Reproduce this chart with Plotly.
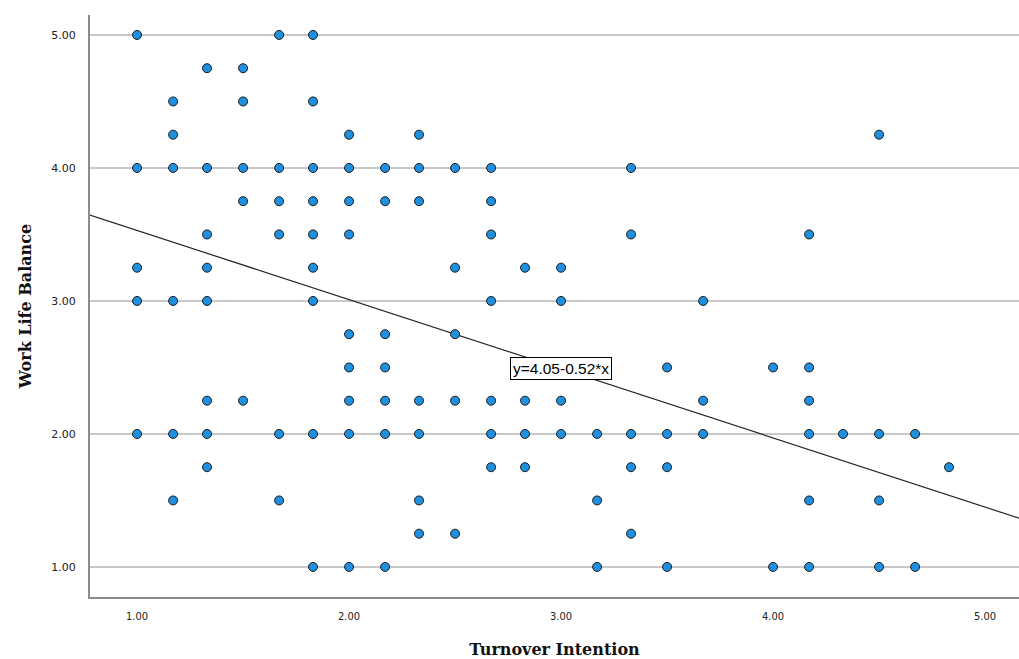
import plotly.graph_objects as go

# Data: Turnover Intention (x) vs Work Life Balance (y)
x_vals = [
    1.00, 1.00, 1.00, 1.00, 1.00,
    1.17, 1.17, 1.17, 1.17, 1.17, 1.17,
    1.33, 1.33, 1.33, 1.33, 1.33, 1.33, 1.33, 1.33,
    1.50, 1.50, 1.50, 1.50, 1.50,
    1.67, 1.67, 1.67, 1.67, 1.67, 1.67,
    1.83, 1.83, 1.83, 1.83, 1.83, 1.83, 1.83, 1.83, 1.83,
    2.00, 2.00, 2.00, 2.00, 2.00, 2.00, 2.00, 2.00, 2.00,
    2.17, 2.17, 2.17, 2.17, 2.17, 2.17, 2.17,
    2.33, 2.33, 2.33, 2.33, 2.33, 2.33, 2.33,
    2.50, 2.50, 2.50, 2.50, 2.50,
    2.67, 2.67, 2.67, 2.67, 2.67, 2.67, 2.67,
    2.83, 2.83, 2.83, 2.83,
    3.00, 3.00, 3.00, 3.00,
    3.17, 3.17, 3.17,
    3.33, 3.33, 3.33, 3.33, 3.33,
    3.50, 3.50, 3.50, 3.50,
    3.67, 3.67, 3.67,
    4.00, 4.00,
    4.17, 4.17, 4.17, 4.17, 4.17, 4.17,
    4.33,
    4.50, 4.50, 4.50, 4.50,
    4.67, 4.67,
    4.83,
]
y_vals = [
    5.00, 4.00, 3.25, 3.00, 2.00,
    4.50, 4.25, 4.00, 3.00, 2.00, 1.50,
    4.75, 4.00, 3.50, 3.25, 3.00, 2.25, 2.00, 1.75,
    4.75, 4.50, 4.00, 3.75, 2.25,
    5.00, 4.00, 3.75, 3.50, 2.00, 1.50,
    5.00, 4.50, 4.00, 3.75, 3.50, 3.25, 3.00, 2.00, 1.00,
    4.25, 4.00, 3.75, 3.50, 2.75, 2.50, 2.25, 2.00, 1.00,
    4.00, 3.75, 2.75, 2.50, 2.25, 2.00, 1.00,
    4.25, 4.00, 3.75, 2.25, 2.00, 1.50, 1.25,
    4.00, 3.25, 2.75, 2.25, 1.25,
    4.00, 3.75, 3.50, 3.00, 2.25, 2.00, 1.75,
    3.25, 2.25, 2.00, 1.75,
    3.25, 3.00, 2.25, 2.00,
    2.00, 1.50, 1.00,
    4.00, 3.50, 2.00, 1.75, 1.25,
    2.50, 2.00, 1.75, 1.00,
    3.00, 2.25, 2.00,
    2.50, 1.00,
    3.50, 2.50, 2.25, 2.00, 1.50, 1.00,
    2.00,
    4.25, 2.00, 1.50, 1.00,
    2.00, 1.00,
    1.75,
]

fit_intercept = 4.05
fit_slope = -0.52
fit_label = "y=4.05-0.52*x"
label_x = 3.00

tick_values = [1.00, 2.00, 3.00, 4.00, 5.00]
tick_labels = ["1.00", "2.00", "3.00", "4.00", "5.00"]

x_range = [0.778, 5.16]
y_range = [0.774, 5.15]

fig = go.Figure()

line_x = [x_range[0], x_range[1]]
line_y = [fit_intercept + fit_slope * v for v in line_x]
fig.add_trace(go.Scatter(
    x=line_x, y=line_y, mode="lines",
    line=dict(color="#262626", width=1.2),
    hoverinfo="skip", showlegend=False,
))

fig.add_trace(go.Scatter(
    x=x_vals, y=y_vals, mode="markers",
    marker=dict(size=9, color="#1f8fe0", line=dict(color="#1a1a1a", width=1)),
    showlegend=False,
))

fig.add_annotation(
    x=label_x, y=fit_intercept + fit_slope * label_x,
    text=fit_label, showarrow=False,
    font=dict(family="Liberation Sans, Arial", size=15.5, color="#000"),
    bgcolor="#ffffff", bordercolor="#000000", borderwidth=1, borderpad=2,
)

title_font = dict(family="DejaVu Serif, Liberation Serif", size=16, color="#111")

fig.update_layout(
    width=1019, height=659,
    margin=dict(l=90, r=0, t=15, b=62),
    paper_bgcolor="white", plot_bgcolor="white",
    xaxis=dict(
        range=x_range, tickvals=tick_values, ticktext=tick_labels,
        showgrid=False, zeroline=False,
        showline=True, linecolor="#8c8c8c", linewidth=2,
        ticks="", ticklabelstandoff=8,
        tickfont=dict(family="DejaVu Sans Condensed, DejaVu Sans", size=11, color="#222"),
        title=dict(text="<b>Turnover Intention</b>", font=title_font, standoff=23),
    ),
    yaxis=dict(
        range=y_range, tickvals=tick_values, ticktext=tick_labels,
        showgrid=True, gridcolor="#c8c8c8", gridwidth=1.5,
        zeroline=False,
        showline=True, linecolor="#8c8c8c", linewidth=2,
        ticks="", ticklabelstandoff=10,
        tickfont=dict(family="DejaVu Sans", size=11, color="#222"),
        title=dict(text="<b>Work Life Balance</b>", font=title_font, standoff=16),
    ),
)

fig.write_html("out.html")
